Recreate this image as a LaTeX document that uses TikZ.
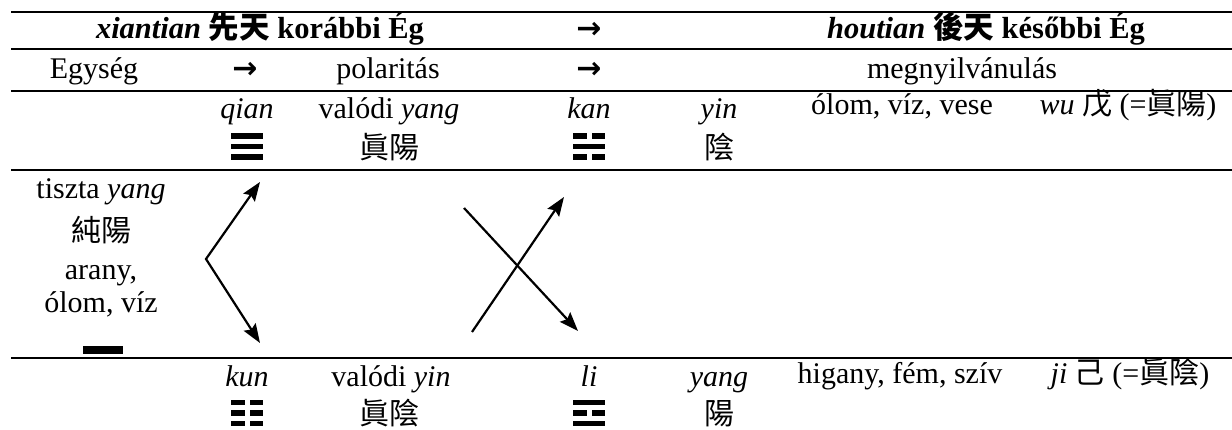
\documentclass[tikz,border=0pt]{standalone}
\usepackage{fontspec}
\setmainfont{Liberation Serif}
\newfontfamily\cjk{Noto Sans CJK TC}
\newfontfamily\arrfont{DejaVu Sans}
\usetikzlibrary{arrows.meta}
\newcommand\tgline[3]{%
  \ifnum#3=1
    \fill ({#1-16},{#2-2.75}) rectangle ({#1+16},{#2+2.75});
  \else
    \fill ({#1-16},{#2-2.75}) rectangle ({#1-2.5},{#2+2.75});
    \fill ({#1+2.5},{#2-2.75}) rectangle ({#1+16},{#2+2.75});
  \fi}
\newcommand\trig[5]{\tgline{#1}{#2}{#3}\tgline{#1}{#2+10.5}{#4}\tgline{#1}{#2+21}{#5}}
\begin{document}
\begin{tikzpicture}[x=1pt,y=-1pt,
  every node/.style={inner sep=0pt, anchor=base, font=\fontsize{30}{36}\selectfont},
  rule/.style={line width=2.4pt},
  tip/.tip={Stealth[length=19pt,width=14pt,inset=3pt]},
  arrowline/.style={line width=2.2pt, -tip},
  hdr/.style={font=\fontsize{30.5}{36}\selectfont\bfseries},
  arr/.style={font=\fontsize{30}{36}\selectfont\arrfont\bfseries}]
\useasboundingbox (0,0) rectangle (1232,430);
% rules
\draw[rule] (11,12) -- (1232,12);
\draw[rule] (11,49) -- (1232,49);
\draw[rule] (11,91) -- (1232,91);
\draw[rule] (11,170) -- (1232,170);
\draw[rule] (11,358) -- (1232,358);
% header row
\node[hdr] (h1) at (260,39) {\textit{xiantian} {\cjk 先天} korábbi Ég};
\node[arr] (ha) at (589,39) {→};
\node[hdr] (h2) at (986,39) {\textit{houtian} {\cjk 後天} későbbi Ég};
% row 2
\node (egy) at (94,79) {Egység};
\node[arr] (a1) at (245,79) {→};
\node (pol) at (388,79) {polaritás};
\node[arr] (a2) at (589,79) {→};
\node (meg) at (962,79) {megnyilvánulás};
% row 3
\node (qian) at (247,119) {\textit{qian}};
\trig{247}{136}{1}{1}{1}
\node (vy) at (389,119) {valódi \textit{yang}};
\node (vyc) at (389,159) {\cjk 眞陽};
\node (kan) at (589,119) {\textit{kan}};
\trig{589}{136}{0}{1}{0}
\node (yin) at (719,119) {\textit{yin}};
\node (yinc) at (719,159) {\cjk 陰};
\node (olom) at (902,115) {ólom, víz, vese};
\node (wu) at (1128,115) {\textit{wu} {\cjk 戊} (={\cjk 眞陽})};
% left block
\node (tisz) at (101,199) {tiszta \textit{yang}};
\node (tiszc) at (101,242) {\cjk 純陽};
\node (arany) at (101,280) {arany,};
\node (olom2) at (101,313) {ólom, víz};
\fill (83,346) rectangle (123,354);
% arrows
\coordinate (vtop) at (260,182);
\coordinate (vmid) at (206,259);
\coordinate (vbot) at (260,343);
\draw[arrowline, tip-tip] (vtop) -- (vmid) -- (vbot);
\coordinate (x1s) at (464,208);
\coordinate (x1e) at (578,331);
\coordinate (x2s) at (472,332);
\coordinate (x2e) at (564,197);
\draw[arrowline] (x1s) -- (x1e);
\draw[arrowline] (x2s) -- (x2e);
% row 5
\node (kun) at (247,387) {\textit{kun}};
\trig{247}{402.5}{0}{0}{0}
\node (vyin) at (391,387) {valódi \textit{yin}};
\node (vyinc) at (389,424) {\cjk 眞陰};
\node (li) at (589,387) {\textit{li}};
\trig{589}{402.5}{1}{0}{1}
\node (yang) at (719,387) {\textit{yang}};
\node (yangc) at (719,424) {\cjk 陽};
\node (hig) at (900,383) {higany, fém, szív};
\node (ji) at (1130,383) {\textit{ji} {\cjk 己} (={\cjk 眞陰})};
\end{tikzpicture}
\end{document}
